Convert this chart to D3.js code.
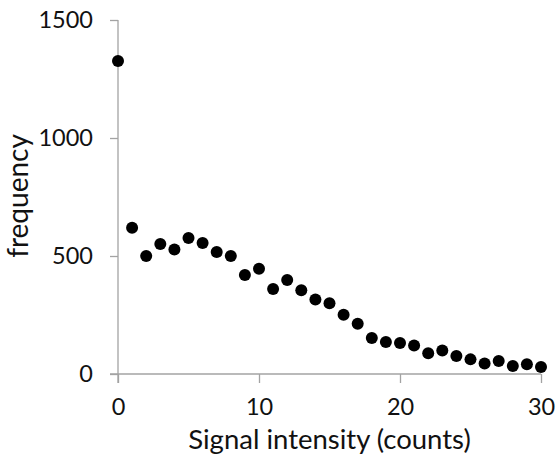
<!DOCTYPE html>
<html>
<head>
<meta charset="utf-8">
<script src="https://cdn.jsdelivr.net/npm/d3@7"></script>
<style>
  html, body { margin: 0; padding: 0; background: #fff; }
  svg { display: block; }
  text { font-family: Lato, "Open Sans", sans-serif; fill: #111; }
</style>
</head>
<body>
<svg id="chart" width="557" height="454"></svg>
<script>
const intensity = [0,1,2,3,4,5,6,7,8,9,10,11,12,13,14,15,16,17,18,19,20,21,22,23,24,25,26,27,28,29,30];
const frequency = [1326,620,500,551,528,576,555,517,500,419,446,360,398,355,316,300,251,213,153,136,131,121,88,100,76,62,44,55,34,41,30];
const xTicks = [0,10,20,30];
const yTicks = [0,500,1000,1500];
const xLabel = "Signal intensity (counts)";
const yLabel = "frequency";

const svg = d3.select("#chart");
const x = d3.scaleLinear().domain([0,30]).range([118,541]);
const y = d3.scaleLinear().domain([0,1500]).range([374,20]);
const axisColor = "#a3a3a3";

// Y axis
const yAxis = svg.append("g").attr("transform", `translate(${x(0)},0)`)
  .call(d3.axisLeft(y).tickValues(yTicks).tickSizeInner(8).tickSizeOuter(0).tickPadding(17).tickFormat(d3.format("d")));
yAxis.select(".domain").remove();
yAxis.selectAll(".tick line").attr("stroke", axisColor).attr("stroke-width", 1.3);
yAxis.selectAll(".tick text").attr("font-size", 23.5).attr("font-family", "Lato").attr("fill", "#111");

// X axis
const xAxis = svg.append("g").attr("transform", `translate(0,${y(0)})`)
  .call(d3.axisBottom(x).tickValues(xTicks).tickSizeInner(9).tickSizeOuter(0).tickPadding(32).tickFormat(d3.format("d")));
xAxis.select(".domain").remove();
xAxis.selectAll(".tick line").attr("stroke", axisColor).attr("stroke-width", 1.3);
xAxis.selectAll(".tick text").attr("font-size", 23.5).attr("font-family", "Lato").attr("fill", "#111").attr("dy", "0");

// axis lines (crossing like spreadsheet charts)
svg.append("line").attr("x1", x(0)).attr("x2", x(0)).attr("y1", y(1500)).attr("y2", y(0) + 9)
  .attr("stroke", axisColor).attr("stroke-width", 1.3);
svg.append("line").attr("x1", x(0) - 8).attr("x2", x(30)).attr("y1", y(0)).attr("y2", y(0))
  .attr("stroke", axisColor).attr("stroke-width", 1.3);

// Points
svg.append("g").selectAll("circle").data(intensity).join("circle")
  .attr("cx", d => x(d))
  .attr("cy", (d,i) => y(frequency[i]))
  .attr("r", 6)
  .attr("fill", "#000");

// Labels
svg.append("text").attr("x", (x(0)+x(30))/2).attr("y", 449)
  .attr("text-anchor", "middle").attr("font-size", 27.5).text(xLabel);
svg.append("text").attr("transform", `translate(28,196) rotate(-90)`)
  .attr("text-anchor", "middle").attr("font-size", 28).text(yLabel);
</script>
</body>
</html>
